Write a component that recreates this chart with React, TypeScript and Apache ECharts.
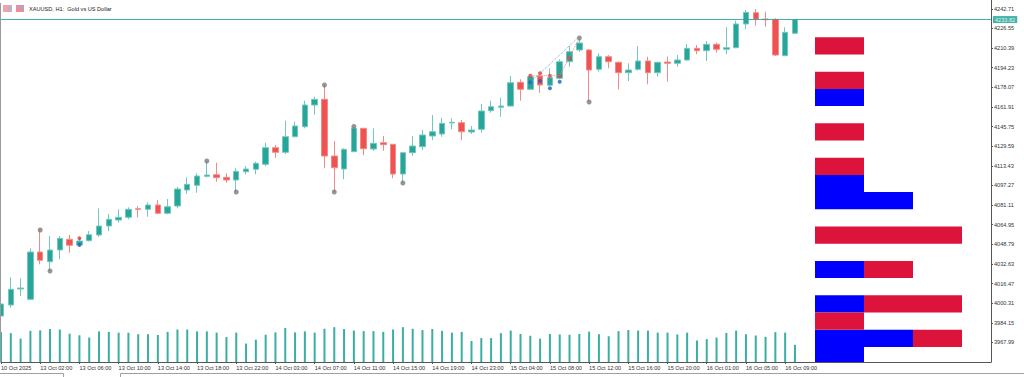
import React, { useEffect, useRef } from 'react';
import * as echarts from 'echarts';

// ---- categories (H1 bars) ----
const sessions: [string, number, number][] = [
  ['10 Oct', 21, 23],
  ['13 Oct', 1, 23],
  ['14 Oct', 1, 23],
  ['15 Oct', 1, 23],
  ['16 Oct', 1, 10],
];
const times: string[] = sessions.flatMap(([d, a, b]) =>
  Array.from({ length: b - a + 1 }, (_, k) => `${d} ${String(a + k).padStart(2, '0')}:00`)
);
const emptySlots = 20; // chart shift to the right
const categories: string[] = [...times, ...Array.from({ length: emptySlots }, () => '')];
const labelOverrides: Record<number, string> = { 0: '10 Oct 2025' };
const labelEvery = 4;
const lastLabelIndex = 80;

// ---- OHLC ----
const opens = [
  3989.69, 3998.75, 4011.93, 4003.45, 4042.40, 4034.41, 4044.05, 4052.86, 4048.16, 4051.70,
  4056.40, 4063.81, 4068.75, 4070.97, 4078.06, 4077.56, 4081.10, 4074.27, 4080.28, 4093.46,
  4097.33, 4104.74, 4106.06, 4103.92, 4101.69, 4108.53, 4110.50, 4114.62, 4128.29, 4124.50,
  4137.35, 4145.58, 4163.45, 4168.15, 4121.45, 4110.75, 4125.00, 4144.27, 4127.22, 4132.41,
  4131.09, 4106.63, 4124.17, 4129.11, 4137.92, 4139.57, 4148.63, 4148.88, 4141.22, 4143.44,
  4158.76, 4161.56, 4162.63, 4182.14, 4176.38, 4187.33, 4179.68, 4185.44, 4199.11, 4208.75,
  4208.75, 4192.85, 4203.23, 4198.62, 4190.05, 4192.85, 4199.69, 4190.05, 4198.86, 4197.79,
  4200.51, 4210.14, 4208.17, 4213.44, 4209.32, 4210.64, 4230.16, 4239.46, 4234.27, 4234.03,
  4204.05, 4222.50,
];
const closes = [
  3999.58, 4011.68, 4012.75, 4042.40, 4035.56, 4044.05, 4053.68, 4047.92, 4051.45, 4056.65,
  4063.81, 4069.33, 4070.97, 4077.56, 4077.56, 4081.10, 4074.27, 4079.70, 4094.28, 4098.15,
  4104.98, 4105.81, 4103.59, 4101.69, 4108.85, 4110.75, 4115.44, 4128.29, 4124.50, 4137.35,
  4146.16, 4163.45, 4168.15, 4121.45, 4111.82, 4126.97, 4144.27, 4127.47, 4131.91, 4130.76,
  4106.63, 4124.17, 4129.69, 4138.75, 4141.47, 4148.38, 4149.21, 4141.47, 4142.87, 4158.51,
  4162.05, 4162.63, 4181.82, 4176.38, 4186.76, 4179.92, 4185.93, 4199.11, 4207.35, 4214.51,
  4192.28, 4203.23, 4199.11, 4190.05, 4192.28, 4199.69, 4190.05, 4198.62, 4197.79, 4200.51,
  4210.14, 4208.17, 4213.44, 4209.32, 4210.64, 4230.16, 4239.79, 4234.03, 4233.70, 4204.63,
  4223.32, 4233.82,
];
const lows = [
  3988.04, 3996.53, 4006.16, 4002.87, 4032.27, 4026.75, 4036.39, 4041.82, 4047.34, 4051.05,
  4054.75, 4059.69, 4066.53, 4069.33, 4070.97, 4071.47, 4073.69, 4073.44, 4078.38, 4090.16,
  4091.23, 4103.92, 4100.29, 4099.47, 4091.81, 4106.38, 4106.38, 4113.22, 4120.05, 4123.10,
  4136.85, 4144.27, 4155.47, 4111.33, 4091.81, 4102.27, 4124.75, 4122.03, 4125.57, 4125.82,
  4103.09, 4099.22, 4121.45, 4126.40, 4134.63, 4137.35, 4143.44, 4134.63, 4139.57, 4140.64,
  4157.11, 4153.82, 4162.05, 4166.99, 4175.81, 4173.58, 4179.10, 4184.62, 4194.99, 4207.10,
  4165.92, 4190.88, 4193.68, 4176.38, 4183.22, 4191.70, 4180.50, 4186.76, 4182.64, 4194.99,
  4199.93, 4205.20, 4199.69, 4206.52, 4205.20, 4210.14, 4226.04, 4228.76, 4227.93, 4203.80,
  4203.80, 4222.30,
];
const highs = [
  4002.87, 4021.56, 4020.74, 4045.45, 4060.50, 4055.57, 4055.57, 4056.40, 4054.75, 4059.69,
  4078.38, 4073.69, 4077.56, 4079.21, 4080.28, 4083.33, 4085.22, 4086.05, 4096.17, 4103.92,
  4107.21, 4117.34, 4115.94, 4107.21, 4111.33, 4113.22, 4116.76, 4132.41, 4130.51, 4150.52,
  4149.70, 4166.99, 4170.29, 4179.92, 4133.81, 4127.80, 4145.75, 4144.51, 4144.27, 4137.92,
  4131.34, 4124.75, 4137.92, 4142.87, 4155.22, 4152.99, 4152.50, 4151.10, 4146.16, 4164.28,
  4166.99, 4169.47, 4187.33, 4184.62, 4188.98, 4190.88, 4193.68, 4201.09, 4212.04, 4218.63,
  4209.57, 4206.03, 4204.63, 4199.11, 4197.79, 4212.04, 4203.23, 4199.11, 4203.23, 4204.63,
  4213.69, 4212.86, 4216.16, 4214.76, 4227.44, 4232.87, 4241.69, 4242.51, 4240.29, 4234.85,
  4227.44, 4234.03,
];
const lastPrice = 4233.82;

// ---- tick volumes ----
const volumes = [
  11500, 11100, 9000, 12000, 12200, 12700, 12500, 10900, 10300, 9400,
  11800, 11600, 11300, 11300, 10700, 10700, 10400, 11600, 12500, 12500,
  11800, 11800, 11300, 9600, 11300, 7100, 8600, 10500, 11400, 13100,
  11400, 11800, 11300, 12800, 13400, 12700, 12100, 11900, 11900, 11600,
  12500, 13400, 12800, 12300, 12700, 12000, 11300, 11600, 8100, 9200,
  9200, 11100, 12100, 10800, 10100, 9000, 10800, 10600, 10500, 10800,
  11700, 10700, 9900, 11900, 12300, 12100, 12100, 11300, 11300, 10600,
  11300, 8300, 8800, 9400, 11200, 12100, 10700, 10200, 9700, 11500,
  11300, 6600,
];

// ---- fractals / markers ----
const fractalUp = [4, 21, 33, 36, 59];
const fractalDown = [5, 24, 34, 41, 60];
const redMarks: [number, number][] = [[8, 4053.68], [54, 4187.58], [55, 4189.56], [56, 4187.58], [57, 4187.58], [58, 4201.91]];
const blueMarks: [number, number][] = [[8, 4048.16], [54, 4182.14], [55, 4183.22], [56, 4177.21], [57, 4182.64]];
const blueTrend: [number, number][] = [[54, 4182.14], [59, 4219.86]];
const redTrend: [number, number][] = [[54, 4187.58], [57, 4187.58], [59, 4218.63]];

// ---- right-side profile ----
const profileLevels = [
  '4212.1', '4198.0', '4183.8', '4169.6', '4155.5', '4141.3', '4127.2', '4113.0', '4098.8', '4084.7',
  '4070.5', '4056.4', '4042.2', '4028.0', '4013.9', '3999.7', '3985.6', '3971.4', '3957.2',
];
const profileBlue = [0, 0, 0, 1, 0, 0, 0, 0, 1, 2, 0, 0, 0, 1, 0, 1, 0, 2, 1];
const profileRed = [1, 0, 1, 0, 0, 1, 0, 1, 0, 0, 0, 3, 0, 1, 0, 2, 1, 1, 0];

// ---- axis ----
const yMin = 3951.83;
const yMax = 4249.92;
const yStep = 16.16;

const FONT = "'Liberation Sans', Arial, sans-serif";
const TEAL = '#26a69a';
const RED = '#ef5350';

const showIdx = (i: number) => i % labelEvery === 0 && i <= lastLabelIndex;

export default function App() {
  const ref = useRef<HTMLDivElement>(null);
  useEffect(() => {
    if (!ref.current) return;
    const chart = echarts.init(ref.current, null, { renderer: 'svg' });
    const candles = opens.map((o, i) => [o, closes[i], lows[i], highs[i]]);
    const option: any = {
      animation: false,
      backgroundColor: '#ffffff',
      textStyle: { fontFamily: FONT },
      grid: [
        { left: 1, right: 33, top: 0, bottom: 15, outerBoundsMode: 'none' },
        { left: 1, right: 33, bottom: 15, height: 40, outerBoundsMode: 'none' },
        { left: 815, top: 37.3, width: 147, height: 326.8, outerBoundsMode: 'none' },
      ],
      xAxis: [
        {
          gridIndex: 0,
          type: 'category',
          data: categories,
          boundaryGap: false,
          z: 10,
          axisLine: { show: true, lineStyle: { color: '#555', width: 1 } },
          axisTick: { show: true, length: 2, interval: (i: number) => showIdx(i), lineStyle: { color: '#555' } },
          axisLabel: {
            interval: (i: number) => showIdx(i),
            align: 'left',
            margin: 3,
            fontSize: 5.6,
            color: '#333',
            fontFamily: FONT,
            formatter: (v: string, i: number) => labelOverrides[i] ?? v,
          },
          splitLine: { show: false },
        },
        {
          gridIndex: 1,
          type: 'category',
          data: categories,
          boundaryGap: false,
          show: false,
        },
        { gridIndex: 2, type: 'value', min: 0, max: 3, show: false },
      ],
      yAxis: [
        {
          gridIndex: 0,
          type: 'value',
          position: 'right',
          min: yMin,
          max: yMax,
          interval: yStep,
          axisLine: { show: true, lineStyle: { color: '#555', width: 1 } },
          axisTick: { show: true, length: 2, lineStyle: { color: '#555' } },
          splitLine: { show: false },
          axisLabel: {
            margin: 3,
            fontSize: 5.6,
            color: '#333',
            fontFamily: FONT,
            showMinLabel: false,
            showMaxLabel: false,
            formatter: (v: number) => v.toFixed(2),
          },
        },
        { gridIndex: 1, type: 'value', min: 0, max: 15400, show: false },
        { gridIndex: 2, type: 'category', data: profileLevels, inverse: true, show: false },
      ],
      series: [
        {
          type: 'bar',
          name: 'Volume',
          xAxisIndex: 1,
          yAxisIndex: 1,
          data: volumes,
          barWidth: 2,
          itemStyle: { color: '#3aaea2' },
          silent: true,
        },
        {
          type: 'candlestick',
          name: 'XAUUSD',
          xAxisIndex: 0,
          yAxisIndex: 0,
          data: candles,
          barWidth: 6,
          itemStyle: {
            color: TEAL,
            color0: RED,
            borderColor: '#74c7bd',
            borderColor0: '#f48a88',
            borderWidth: 1,
          },
          markLine: {
            silent: true,
            symbol: 'none',
            data: [{ yAxis: lastPrice }],
            lineStyle: { color: TEAL, width: 1, type: 'solid', opacity: 0.85 },
            label: {
              position: 'end',
              distance: 2,
              formatter: lastPrice.toFixed(2),
              backgroundColor: TEAL,
              color: '#ffffff',
              fontSize: 5.6,
              fontFamily: FONT,
              padding: [1, 2, 0, 2],
            },
          },
        },
        {
          type: 'line',
          xAxisIndex: 0,
          yAxisIndex: 0,
          data: blueTrend,
          showSymbol: false,
          lineStyle: { color: '#7aa7d8', width: 1, type: 'dotted' },
          silent: true,
        },
        {
          type: 'line',
          xAxisIndex: 0,
          yAxisIndex: 0,
          data: redTrend,
          showSymbol: false,
          lineStyle: { color: '#ec8a8a', width: 1, type: 'dotted' },
          silent: true,
        },
        {
          type: 'scatter',
          xAxisIndex: 0,
          yAxisIndex: 0,
          data: [...fractalUp.map((i) => [i, highs[i]]), ...fractalDown.map((i) => [i, lows[i]])],
          symbol: 'circle',
          symbolSize: 5,
          itemStyle: { color: '#7a7a7a' },
          silent: true,
        },
        {
          type: 'scatter',
          xAxisIndex: 0,
          yAxisIndex: 0,
          data: redMarks,
          symbol: 'circle',
          symbolSize: 4,
          itemStyle: { color: '#e53935' },
          silent: true,
        },
        {
          type: 'scatter',
          xAxisIndex: 0,
          yAxisIndex: 0,
          data: blueMarks,
          symbol: 'circle',
          symbolSize: 4,
          itemStyle: { color: '#1e5fbf' },
          silent: true,
        },
        {
          type: 'bar',
          name: 'Buy',
          xAxisIndex: 2,
          yAxisIndex: 2,
          stack: 'profile',
          data: profileBlue,
          barCategoryGap: '0%',
          itemStyle: { color: '#0000ff' },
          silent: true,
        },
        {
          type: 'bar',
          name: 'Sell',
          xAxisIndex: 2,
          yAxisIndex: 2,
          stack: 'profile',
          data: profileRed,
          barCategoryGap: '0%',
          itemStyle: { color: '#dc143c' },
          silent: true,
        },
      ],
      graphic: [
        { type: 'rect', z: 5, shape: { x: 812, y: 362.5, width: 160, height: 4 }, style: { fill: '#ffffff' } },
        { type: 'line', z: 20, shape: { x1: 0.5, y1: 3, x2: 0.5, y2: 362 }, style: { stroke: '#9a9a9a', lineWidth: 1 } },
        {
          type: 'polyline', z: 20,
          shape: { points: [[0, 373.5], [63.5, 373.5], [63.5, 377]] },
          style: { stroke: '#a0a0a0', lineWidth: 1, fill: 'none' },
        },
        {
          type: 'polyline', z: 20,
          shape: { points: [[120.5, 377], [120.5, 373.5], [1024, 373.5]] },
          style: { stroke: '#a0a0a0', lineWidth: 1, fill: 'none' },
        },
        { type: 'rect', z: 20, shape: { x: 3, y: 5, width: 9, height: 7 }, style: { fill: '#f3a3a3' } },
        { type: 'rect', z: 21, shape: { x: 8, y: 6, width: 3, height: 5 }, style: { fill: '#a3b6e8' } },
        { type: 'rect', z: 20, shape: { x: 16, y: 5, width: 8, height: 7 }, style: { fill: '#ef8e8e' } },
        { type: 'rect', z: 21, shape: { x: 19, y: 6, width: 4, height: 3 }, style: { fill: '#8fb0ea' } },
        {
          type: 'text', z: 20, x: 29, y: 5.5,
          style: { text: 'XAUUSD, H1:  Gold vs US Dollar', fontSize: 5.6, fontFamily: FONT, fill: '#222' },
        },
      ],
    };
    chart.setOption(option);
    return () => chart.dispose();
  }, []);
  return (
    <div
      ref={ref}
      style={{ position: 'fixed', left: 0, top: 0, width: 1024, height: 377, background: '#ffffff' }}
    />
  );
}
